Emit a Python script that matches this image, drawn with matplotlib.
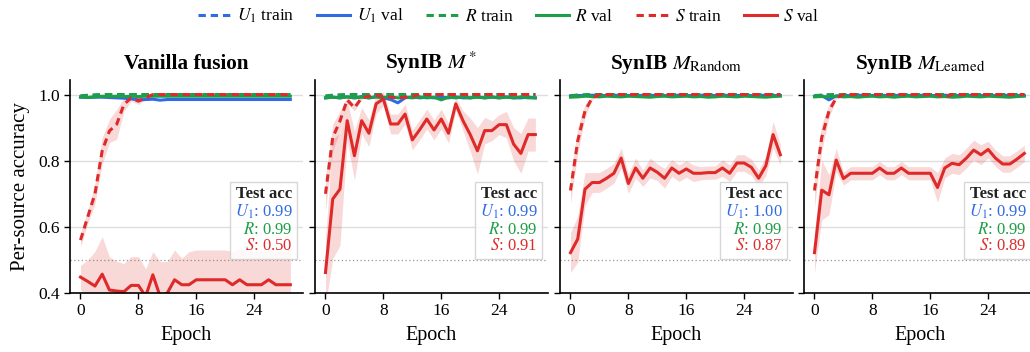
"""
Per-source accuracy curves for four fusion variants.
"""

import matplotlib
matplotlib.use("Agg")
import matplotlib.pyplot as plt
from matplotlib.offsetbox import TextArea, VPacker, AnchoredOffsetbox

epochs = list(range(30))

panel_titles = [
    "Vanilla fusion",
    r"SynIB $M^*$",
    r"SynIB $M_{\mathrm{Random}}$",
    r"SynIB $M_{\mathrm{Learned}}$",
]

# test accuracy shown in the boxes: U1, R, S
test_u1 = ["0.99", "0.99", "1.00", "0.99"]
test_r = ["0.99", "0.99", "0.99", "0.99"]
test_s = ["0.50", "0.91", "0.87", "0.89"]

# ---- Vanilla fusion ----
van_u1_train = [0.995, 0.997, 0.998, 0.999, 1.0, 1.0, 1.0, 1.0, 1.0, 1.0, 1.0, 1.0, 1.0, 1.0, 1.0,
                1.0, 1.0, 1.0, 1.0, 1.0, 1.0, 1.0, 1.0, 1.0, 1.0, 1.0, 1.0, 1.0, 1.0, 1.0]
van_u1_val = [0.992, 0.991, 0.992, 0.992, 0.991, 0.99, 0.989, 0.987, 0.984, 0.985, 0.986, 0.983, 0.985, 0.985, 0.985,
              0.985, 0.985, 0.985, 0.985, 0.985, 0.985, 0.985, 0.985, 0.985, 0.985, 0.985, 0.985, 0.985, 0.985, 0.985]
van_r_train = [0.996, 0.998, 0.999, 1.0, 1.0, 1.0, 1.0, 1.0, 1.0, 1.0, 1.0, 1.0, 1.0, 1.0, 1.0,
               1.0, 1.0, 1.0, 1.0, 1.0, 1.0, 1.0, 1.0, 1.0, 1.0, 1.0, 1.0, 1.0, 1.0, 1.0]
van_r_val = [0.993, 0.991, 0.993, 0.995, 0.994, 0.995, 0.994, 0.995, 0.994, 0.995, 0.995, 0.995, 0.995, 0.995, 0.995,
             0.995, 0.995, 0.995, 0.995, 0.995, 0.995, 0.995, 0.995, 0.995, 0.995, 0.995, 0.995, 0.995, 0.995, 0.995]
van_s_train = [0.56, 0.63, 0.70, 0.83, 0.89, 0.91, 0.97, 0.99, 0.98, 0.99, 1.0, 1.0, 1.0, 1.0, 1.0,
               1.0, 1.0, 1.0, 1.0, 1.0, 1.0, 1.0, 1.0, 1.0, 1.0, 1.0, 1.0, 1.0, 1.0, 1.0]
van_s_train_std = [0.02, 0.02, 0.03, 0.04, 0.035, 0.045, 0.02, 0.01, 0.01, 0.005, 0.0, 0.0, 0.0, 0.0, 0.0,
                   0.0, 0.0, 0.0, 0.0, 0.0, 0.0, 0.0, 0.0, 0.0, 0.0, 0.0, 0.0, 0.0, 0.0, 0.0]
van_s_val = [0.448, 0.435, 0.421, 0.457, 0.409, 0.406, 0.404, 0.423, 0.423, 0.39, 0.455, 0.39, 0.40, 0.44, 0.425,
             0.425, 0.44, 0.44, 0.44, 0.44, 0.44, 0.425, 0.44, 0.425, 0.425, 0.425, 0.44, 0.425, 0.425, 0.425]
van_s_val_std = [0.035, 0.065, 0.105, 0.113, 0.10, 0.09, 0.085, 0.087, 0.087, 0.083, 0.07, 0.105, 0.095, 0.09, 0.08,
                 0.10, 0.09, 0.09, 0.09, 0.09, 0.09, 0.10, 0.095, 0.10, 0.10, 0.10, 0.09, 0.10, 0.10, 0.10]

# ---- SynIB M* ----
mstar_u1_train = [0.994, 0.997, 0.998, 0.999, 1.0, 1.0, 1.0, 1.0, 1.0, 1.0, 1.0, 1.0, 1.0, 1.0, 1.0,
                  1.0, 1.0, 1.0, 1.0, 1.0, 1.0, 1.0, 1.0, 1.0, 1.0, 1.0, 1.0, 1.0, 1.0, 1.0]
mstar_u1_val = [0.99, 0.992, 0.99, 0.993, 0.99, 0.994, 0.99, 0.993, 0.99, 0.985, 0.975, 0.99, 0.993, 0.99, 0.992,
                0.99, 0.992, 0.99, 0.993, 0.99, 0.99, 0.993, 0.99, 0.992, 0.99, 0.993, 0.99, 0.99, 0.992, 0.99]
mstar_r_train = [0.996, 0.998, 0.999, 1.0, 1.0, 1.0, 1.0, 1.0, 1.0, 1.0, 1.0, 1.0, 1.0, 1.0, 1.0,
                 1.0, 1.0, 1.0, 1.0, 1.0, 1.0, 1.0, 1.0, 1.0, 1.0, 1.0, 1.0, 1.0, 1.0, 1.0]
mstar_r_val = [0.99, 0.992, 0.99, 0.993, 0.99, 0.992, 0.99, 0.993, 0.991, 0.993, 0.99, 0.992, 0.99, 0.993, 0.99,
               0.992, 0.984, 0.992, 0.99, 0.993, 0.99, 0.992, 0.99, 0.993, 0.99, 0.992, 0.99, 0.993, 0.99, 0.99]
mstar_s_train = [0.70, 0.87, 0.92, 0.984, 0.96, 0.99, 0.995, 0.998, 0.995, 0.992, 0.99, 0.992, 0.995, 1.0, 1.0,
                 1.0, 1.0, 1.0, 1.0, 1.0, 1.0, 1.0, 1.0, 1.0, 1.0, 1.0, 1.0, 1.0, 1.0, 1.0]
mstar_s_train_std = [0.05, 0.04, 0.03, 0.01, 0.01, 0.005, 0.0, 0.0, 0.0, 0.0, 0.0, 0.0, 0.0, 0.0, 0.0,
                     0.0, 0.0, 0.0, 0.0, 0.0, 0.0, 0.0, 0.0, 0.0, 0.0, 0.0, 0.0, 0.0, 0.0, 0.0]
mstar_s_val = [0.462, 0.684, 0.714, 0.921, 0.815, 0.921, 0.883, 0.972, 0.987, 0.911, 0.911, 0.941, 0.863, 0.893, 0.926,
               0.893, 0.926, 0.883, 0.972, 0.921, 0.879, 0.83, 0.891, 0.891, 0.909, 0.909, 0.85, 0.822, 0.879, 0.879]
mstar_s_val_std = [0.10, 0.18, 0.17, 0.06, 0.075, 0.04, 0.04, 0.03, 0.02, 0.03, 0.03, 0.03, 0.03, 0.03, 0.03,
                   0.03, 0.03, 0.03, 0.02, 0.03, 0.05, 0.07, 0.04, 0.03, 0.03, 0.04, 0.05, 0.06, 0.05, 0.05]

# ---- SynIB M_Random ----
rand_u1_train = [0.996, 0.998, 0.999, 1.0, 1.0, 1.0, 1.0, 1.0, 1.0, 1.0, 1.0, 1.0, 1.0, 1.0, 1.0,
                 1.0, 1.0, 1.0, 1.0, 1.0, 1.0, 1.0, 1.0, 1.0, 1.0, 1.0, 1.0, 1.0, 1.0, 1.0]
rand_u1_val = [0.996, 0.997, 0.997, 0.998, 0.997, 0.997, 0.998, 0.997, 0.997, 0.998, 0.997, 0.997, 0.998, 0.997, 0.997,
               0.998, 0.997, 0.997, 0.998, 0.997, 0.997, 0.998, 0.997, 0.997, 0.998, 0.997, 0.997, 0.998, 0.997, 0.997]
rand_r_train = [0.997, 0.998, 0.999, 1.0, 1.0, 1.0, 1.0, 1.0, 1.0, 1.0, 1.0, 1.0, 1.0, 1.0, 1.0,
                1.0, 1.0, 1.0, 1.0, 1.0, 1.0, 1.0, 1.0, 1.0, 1.0, 1.0, 1.0, 1.0, 1.0, 1.0]
rand_r_val = [0.992, 0.993, 0.995, 0.994, 0.993, 0.995, 0.994, 0.993, 0.995, 0.994, 0.993, 0.992, 0.994, 0.995, 0.993,
              0.994, 0.995, 0.993, 0.994, 0.992, 0.993, 0.995, 0.994, 0.993, 0.995, 0.994, 0.993, 0.992, 0.994, 0.995]
rand_s_train = [0.71, 0.86, 0.95, 0.99, 1.0, 1.0, 1.0, 1.0, 1.0, 1.0, 1.0, 1.0, 1.0, 1.0, 1.0,
                1.0, 1.0, 1.0, 1.0, 1.0, 1.0, 1.0, 1.0, 1.0, 1.0, 1.0, 1.0, 1.0, 1.0, 1.0]
rand_s_train_std = [0.04, 0.04, 0.02, 0.005, 0.0, 0.0, 0.0, 0.0, 0.0, 0.0, 0.0, 0.0, 0.0, 0.0, 0.0,
                    0.0, 0.0, 0.0, 0.0, 0.0, 0.0, 0.0, 0.0, 0.0, 0.0, 0.0, 0.0, 0.0, 0.0, 0.0]
rand_s_val = [0.522, 0.563, 0.714, 0.734, 0.734, 0.747, 0.762, 0.808, 0.731, 0.778, 0.747, 0.778, 0.765, 0.747, 0.778,
              0.762, 0.775, 0.762, 0.762, 0.764, 0.764, 0.778, 0.762, 0.793, 0.793, 0.78, 0.747, 0.785, 0.879, 0.818]
rand_s_val_std = [0.06, 0.07, 0.05, 0.03, 0.03, 0.03, 0.03, 0.03, 0.03, 0.03, 0.025, 0.03, 0.025, 0.03, 0.025,
                  0.025, 0.025, 0.025, 0.02, 0.02, 0.02, 0.025, 0.025, 0.025, 0.025, 0.025, 0.025, 0.03, 0.04, 0.03]

# ---- SynIB M_Learned ----
learn_u1_train = [0.996, 0.998, 0.999, 1.0, 1.0, 1.0, 1.0, 1.0, 1.0, 1.0, 1.0, 1.0, 1.0, 1.0, 1.0,
                  1.0, 1.0, 1.0, 1.0, 1.0, 1.0, 1.0, 1.0, 1.0, 1.0, 1.0, 1.0, 1.0, 1.0, 1.0]
learn_u1_val = [0.995, 0.997, 0.984, 0.996, 0.997, 0.997, 0.998, 0.997, 0.997, 0.998, 0.997, 0.997, 0.998, 0.997, 0.997,
                0.998, 0.997, 0.997, 0.998, 0.997, 0.997, 0.998, 0.997, 0.997, 0.998, 0.997, 0.997, 0.998, 0.997, 0.997]
learn_r_train = [0.997, 0.998, 0.999, 1.0, 1.0, 1.0, 1.0, 1.0, 1.0, 1.0, 1.0, 1.0, 1.0, 1.0, 1.0,
                 1.0, 1.0, 1.0, 1.0, 1.0, 1.0, 1.0, 1.0, 1.0, 1.0, 1.0, 1.0, 1.0, 1.0, 1.0]
learn_r_val = [0.993, 0.994, 0.993, 0.995, 0.993, 0.994, 0.992, 0.994, 0.995, 0.993, 0.994, 0.992, 0.994, 0.995, 0.993,
               0.994, 0.995, 0.993, 0.994, 0.992, 0.993, 0.995, 0.994, 0.993, 0.995, 0.994, 0.993, 0.992, 0.994, 0.995]
learn_s_train = [0.71, 0.87, 0.95, 0.99, 1.0, 1.0, 1.0, 1.0, 1.0, 1.0, 1.0, 1.0, 1.0, 1.0, 1.0,
                 1.0, 1.0, 1.0, 0.992, 1.0, 1.0, 1.0, 1.0, 1.0, 1.0, 1.0, 1.0, 1.0, 1.0, 1.0]
learn_s_train_std = [0.05, 0.04, 0.02, 0.005, 0.0, 0.0, 0.0, 0.0, 0.0, 0.0, 0.0, 0.0, 0.0, 0.0, 0.0,
                     0.0, 0.0, 0.0, 0.0, 0.0, 0.0, 0.0, 0.0, 0.0, 0.0, 0.0, 0.0, 0.0, 0.0, 0.0]
learn_s_val = [0.522, 0.711, 0.697, 0.802, 0.746, 0.762, 0.762, 0.762, 0.762, 0.778, 0.762, 0.762, 0.778, 0.762, 0.762,
               0.762, 0.762, 0.719, 0.778, 0.792, 0.788, 0.808, 0.832, 0.818, 0.834, 0.808, 0.79, 0.79, 0.805, 0.822]
learn_s_val_std = [0.06, 0.09, 0.06, 0.035, 0.02, 0.02, 0.02, 0.02, 0.02, 0.02, 0.02, 0.02, 0.02, 0.02, 0.02,
                   0.02, 0.02, 0.045, 0.03, 0.03, 0.03, 0.03, 0.03, 0.03, 0.025, 0.025, 0.025, 0.025, 0.025, 0.025]

u1_train = [van_u1_train, mstar_u1_train, rand_u1_train, learn_u1_train]
u1_val = [van_u1_val, mstar_u1_val, rand_u1_val, learn_u1_val]
r_train = [van_r_train, mstar_r_train, rand_r_train, learn_r_train]
r_val = [van_r_val, mstar_r_val, rand_r_val, learn_r_val]
s_train = [van_s_train, mstar_s_train, rand_s_train, learn_s_train]
s_train_std = [van_s_train_std, mstar_s_train_std, rand_s_train_std, learn_s_train_std]
s_val = [van_s_val, mstar_s_val, rand_s_val, learn_s_val]
s_val_std = [van_s_val_std, mstar_s_val_std, rand_s_val_std, learn_s_val_std]

BLUE = "#2f6be3"
GREEN = "#1e9e48"
RED = "#df2a2a"
DASH = (0, (2.4, 1.6))

plt.rcParams["font.family"] = "serif"
plt.rcParams["font.serif"] = ["Liberation Serif", "DejaVu Serif"]
plt.rcParams["mathtext.fontset"] = "stix"


def band(ax, mean, std, color):
    lo = [m - s for m, s in zip(mean, std)]
    hi = [m + s for m, s in zip(mean, std)]
    ax.fill_between(epochs, lo, hi, color=color, alpha=0.18, linewidth=0)


def main() -> None:
    fig = plt.figure(figsize=(10.3, 3.52), dpi=100)
    W, H = 1030.0, 352.0
    lefts = [70, 315, 560, 804]
    for i, left in enumerate(lefts):
        ax = fig.add_axes([left / W, 59 / H, 233 / W, 213 / H])

        for y in [0.6, 0.8, 1.0]:
            ax.axhline(y, color="#dedede", linewidth=1.0, zorder=0)
        ax.axhline(0.5, color="#999999", linewidth=0.9, linestyle=(0, (1, 2)), zorder=1)

        band(ax, s_train[i], s_train_std[i], RED)
        band(ax, s_val[i], s_val_std[i], RED)

        ax.plot(epochs, u1_train[i], color=BLUE, lw=2.2, linestyle=DASH)
        ax.plot(epochs, u1_val[i], color=BLUE, lw=2.2)
        ax.plot(epochs, r_train[i], color=GREEN, lw=2.2, linestyle=DASH)
        ax.plot(epochs, r_val[i], color=GREEN, lw=2.2)
        ax.plot(epochs, s_train[i], color=RED, lw=2.2, linestyle=DASH)
        ax.plot(epochs, s_val[i], color=RED, lw=2.2)

        ax.set_xlim(-1.45, 30.75)
        ax.set_ylim(0.4, 1.044)
        ax.set_xticks([0, 8, 16, 24])
        ax.set_yticks([0.4, 0.6, 0.8, 1.0])
        ax.spines["top"].set_visible(False)
        ax.spines["right"].set_visible(False)
        ax.spines["left"].set_linewidth(1.2)
        ax.spines["bottom"].set_linewidth(1.2)
        ax.tick_params(labelsize=12.5, length=4, width=1.0)
        if i > 0:
            ax.tick_params(labelleft=False)
        else:
            ax.set_ylabel("Per-source accuracy", fontsize=15, labelpad=6)
        ax.set_xlabel("Epoch", fontsize=14.5, labelpad=5)
        ax.set_title(panel_titles[i], fontsize=15.3, fontweight="bold", pad=8)

        # test accuracy box
        rows = [
            TextArea("Test acc", textprops=dict(fontsize=12, fontweight="bold", color="#222222")),
            TextArea(r"$U_1$: " + test_u1[i], textprops=dict(fontsize=12, color=BLUE)),
            TextArea(r"$R$: " + test_r[i], textprops=dict(fontsize=12, color=GREEN)),
            TextArea(r"$S$: " + test_s[i], textprops=dict(fontsize=12, color=RED)),
        ]
        pack = VPacker(children=rows, align="right", pad=0, sep=0.3)
        box = AnchoredOffsetbox(loc="lower right", child=pack, pad=0.35, borderpad=0,
                                frameon=True, bbox_to_anchor=(0.975, 0.16),
                                bbox_transform=ax.transAxes)
        box.patch.set_edgecolor("#d0d0d0")
        box.patch.set_facecolor("white")
        box.patch.set_alpha(0.85)
        box.patch.set_boxstyle("square", pad=0)
        ax.add_artist(box)

    handles = [
        plt.Line2D([], [], color=BLUE, lw=2.2, linestyle=DASH),
        plt.Line2D([], [], color=BLUE, lw=2.2),
        plt.Line2D([], [], color=GREEN, lw=2.2, linestyle=DASH),
        plt.Line2D([], [], color=GREEN, lw=2.2),
        plt.Line2D([], [], color=RED, lw=2.2, linestyle=DASH),
        plt.Line2D([], [], color=RED, lw=2.2),
    ]
    labels = [r"$U_1$ train", r"$U_1$ val", r"$R$ train", r"$R$ val", r"$S$ train", r"$S$ val"]
    fig.legend(handles, labels, loc="upper center", bbox_to_anchor=(0.494, 1.025), ncol=6,
               frameon=False, fontsize=12.5, handlelength=1.9, columnspacing=1.3, handletextpad=0.35)

    fig.savefig("out.png", dpi=100)


if __name__ == "__main__":
    main()
